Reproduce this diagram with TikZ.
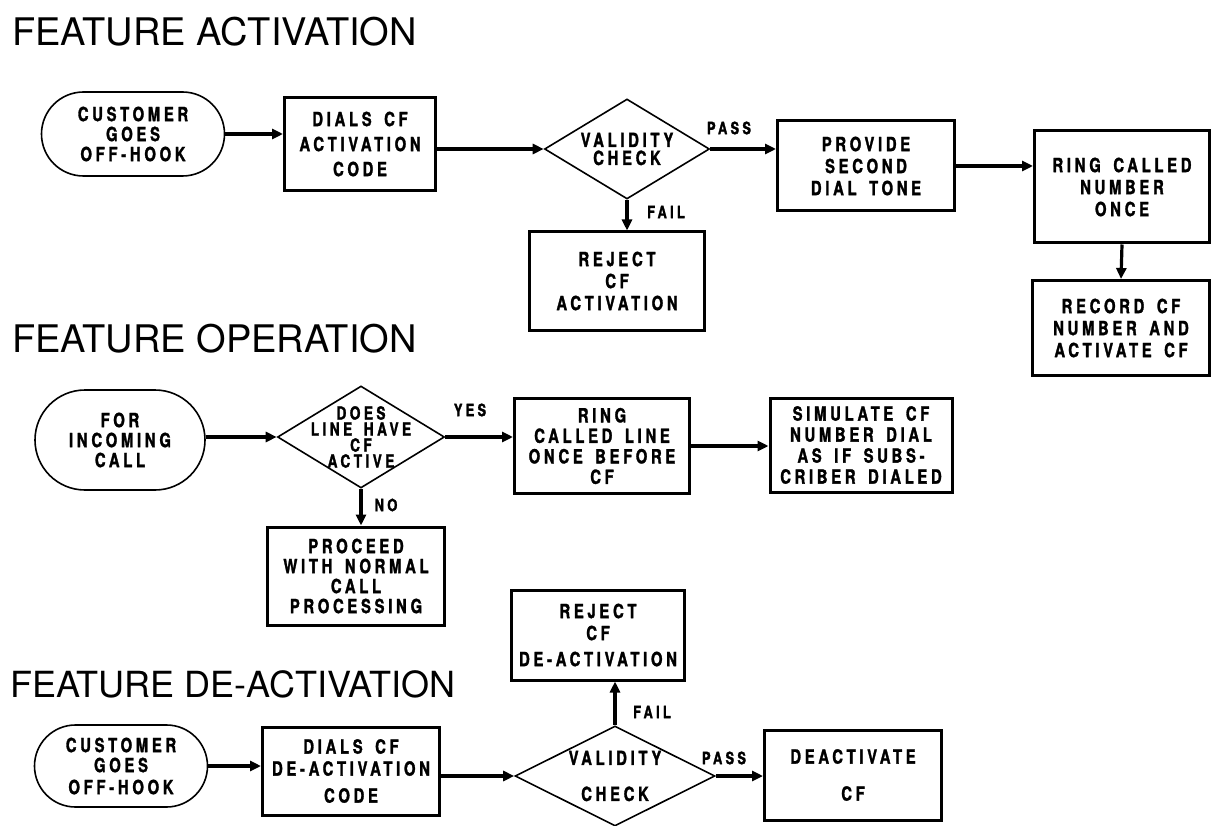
\documentclass[tikz,border=0pt]{standalone}
\usepackage{fontspec}
\setmainfont{TeX Gyre Heros}
\newfontfamily\bxfont[FakeStretch=0.76,LetterSpace=19,WordSpace=1.6,BoldFeatures={FakeBold=1.5}]{TeX Gyre Heros}
\usetikzlibrary{arrows.meta,shapes.geometric}
\begin{document}
\begin{tikzpicture}[x=1pt,y=-1pt,
  box/.style={draw,line width=3pt,inner sep=1pt,align=center,
    font=\bxfont\bfseries\fontsize{19.5}{22}\selectfont},
  term/.style={draw,line width=1.6pt,inner sep=1pt,align=center,
    font=\bxfont\bfseries\fontsize{19.5}{20}\selectfont},
  dia/.style={draw,diamond,line width=1.6pt,inner sep=0pt},
  dtxt/.style={align=center,inner sep=0pt,
    font=\bxfont\bfseries\fontsize{19.5}{18}\selectfont},
  arr/.style={line width=3.2pt,-{Triangle[length=11pt,width=10pt]}},
  ttl/.style={anchor=west,inner sep=0pt,font=\fontsize{38}{44}\selectfont},
  lbl/.style={inner sep=0pt,font=\bxfont\bfseries\fontsize{17}{18}\selectfont}]
\useasboundingbox[fill=white] (0,0) rectangle (1215,826);

% ---------- Feature activation ----------
\node[ttl] (T1) at (12,32) {FEATURE ACTIVATION};
\node[term,rounded corners=42pt,minimum width=183pt,minimum height=84pt] (t1) at (133,134) {CUSTOMER\\GOES\\OFF-HOOK};
\node[box,minimum width=151pt,minimum height=93pt,font=\bxfont\bfseries\fontsize{19.5}{25}\selectfont] (b1) at (360,144) {DIALS CF\\ACTIVATION\\CODE};
\node[dia,minimum width=165pt,minimum height=100pt] (d1) at (627,149) {};
\node[dtxt] (d1t) at (d1) {VALIDITY\\CHECK};
\node[box,minimum width=177pt,minimum height=90pt] (b2) at (866,166) {PROVIDE\\SECOND\\DIAL TONE};
\node[box,minimum width=175pt,minimum height=112pt] (b3) at (1122,187) {RING CALLED\\NUMBER\\ONCE};
\node[box,minimum width=177pt,minimum height=95pt] (b4) at (1121,328) {RECORD CF\\NUMBER AND\\ACTIVATE CF};
\node[box,minimum width=175pt,minimum height=98pt] (b5) at (617,281) {REJECT\\CF\\ACTIVATION};
\node[lbl] (p1) at (729,128) {PASS};
\node[lbl] (f1) at (666,212) {FAIL};

\draw[arr] (t1.east) -- (t1.east -| b1.west);
\draw[arr] (b1.east |- d1.west) -- (d1.west);
\draw[arr] (d1.east) -- (d1.east -| b2.west);
\draw[arr] (b2.east) -- (b2.east -| b3.west);
\draw[arr] (b3.south) -- (b4.north);
\draw[arr] (d1.south) -- (d1.south |- b5.north);

% ---------- Feature operation ----------
\node[ttl] (T2) at (12,339) {FEATURE OPERATION};
\node[term,rounded corners=50pt,minimum width=170pt,minimum height=100pt] (t2) at (120,440) {FOR\\INCOMING\\CALL};
\node[dia,minimum width=167pt,minimum height=102pt] (d2) at (361,437) {};
\node[dtxt,font=\bxfont\bfseries\fontsize{18}{16}\selectfont] (d2t) at (d2) {DOES\\LINE HAVE\\CF\\ACTIVE};
\node[box,minimum width=175pt,minimum height=95pt,font=\bxfont\bfseries\fontsize{19.5}{20.5}\selectfont] (b6) at (602,446) {RING\\CALLED LINE\\ONCE BEFORE\\CF};
\node[box,minimum width=182pt,minimum height=94pt,font=\bxfont\bfseries\fontsize{19.5}{21}\selectfont] (b7) at (861,445) {SIMULATE CF\\NUMBER DIAL\\AS IF SUBS-\\CRIBER DIALED};
\node[box,minimum width=177pt,minimum height=98pt,font=\bxfont\bfseries\fontsize{19.5}{20}\selectfont] (b8) at (356,576) {PROCEED\\WITH NORMAL\\CALL\\PROCESSING};
\node[lbl] (y2) at (470,410) {YES};
\node[lbl] (n2) at (386,505) {NO};

\draw[arr] (t2.east |- d2.west) -- (d2.west);
\draw[arr] (d2.east) -- (d2.east -| b6.west);
\draw[arr] (b6.east) -- (b6.east -| b7.west);
\draw[arr] (d2.south) -- (d2.south |- b8.north);

% ---------- Feature de-activation ----------
\node[ttl,font=\fontsize{36}{42}\selectfont] (T3) at (10,684) {FEATURE DE-ACTIVATION};
\node[term,rounded corners=41pt,minimum width=173pt,minimum height=82pt] (t3) at (121,766) {CUSTOMER\\GOES\\[2pt]OFF-HOOK};
\node[box,minimum width=177pt,minimum height=88pt,font=\bxfont\bfseries\fontsize{19.5}{22}\selectfont] (b9) at (351,771) {DIALS CF\\DE-ACTIVATION\\[5pt]CODE};
\node[dia,minimum width=200pt,minimum height=100pt] (d3) at (615,776) {};
\node[dtxt,font=\bxfont\bfseries\fontsize{19.5}{18}\selectfont] (d3t) at (d3) {VALIDITY\\[18pt]CHECK};
\node[box,minimum width=173pt,minimum height=90pt] (b10) at (598,635) {REJECT\\CF\\[4pt]DE-ACTIVATION};
\node[box,minimum width=177pt,minimum height=90pt] (b11) at (853,775) {DEACTIVATE\\[15pt]CF};
\node[lbl] (f3) at (652,712) {FAIL};
\node[lbl] (p3) at (724,758) {PASS};

\draw[arr] (t3.east) -- (t3.east -| b9.west);
\draw[arr] (b9.east |- d3.west) -- (d3.west);
\draw[arr] (d3.north) -- (d3.north |- b10.south);
\draw[arr] (d3.east) -- (d3.east -| b11.west);
\end{tikzpicture}
\end{document}
